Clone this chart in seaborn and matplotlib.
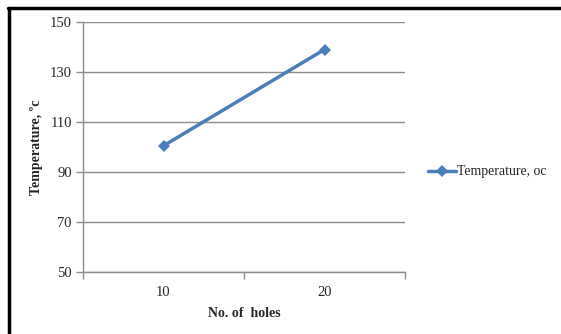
import matplotlib
matplotlib.use("Agg")
import matplotlib.pyplot as plt
from matplotlib.lines import Line2D
import seaborn as sns
import pandas as pd

holes = ["10", "20"]
temperature = [100.5, 139.0]
y_ticks = [50, 70, 90, 110, 130, 150]

series_name = "Temperature, oc"
line_color = "#4a7ebb"
grid_color = "#8c8c8c"

sns.set_theme(style="white")
plt.rcParams["font.family"] = ["Liberation Serif", "DejaVu Serif"]

df = pd.DataFrame({"holes": holes, "temp": temperature})

fig = plt.figure(figsize=(5.61, 3.34), dpi=100)
ax = fig.add_axes([83 / 561, 1 - 272 / 334, (405 - 83) / 561, (272 - 22) / 334])

sns.lineplot(data=df, x="holes", y="temp", ax=ax, color=line_color,
             linewidth=2.5, marker="D", markersize=6, markeredgewidth=0,
             label=series_name, sort=False)

ax.set_ylim(50, 150)
ax.set_yticks(y_ticks)
ax.set_xlim(-0.5, len(holes) - 0.5)

# category boundaries get tick marks, category centres get labels
ax.set_xticks([i - 0.5 for i in range(len(holes) + 1)])
ax.set_xticklabels([""] * (len(holes) + 1))
ax.set_xticks(range(len(holes)), minor=True)
ax.set_xticklabels(holes, minor=True)
ax.tick_params(axis="x", which="major", direction="out", length=5, width=1,
               color=grid_color, bottom=True)
ax.tick_params(axis="x", which="minor", length=0, pad=10, labelsize=10.5)
ax.tick_params(axis="y", direction="out", length=5, width=1, color=grid_color,
               left=True, labelsize=10.5, pad=3)

ax.grid(axis="y", color=grid_color, linewidth=1)
ax.set_axisbelow(True)
for side in ("top", "right"):
    ax.spines[side].set_visible(False)
for side in ("left", "bottom"):
    ax.spines[side].set_color(grid_color)
    ax.spines[side].set_linewidth(1)

ax.set_xlabel("No. of  holes", fontsize=10, fontweight="bold", labelpad=6)
ax.set_ylabel("Temperature, \u00bac", fontsize=10, fontweight="bold", labelpad=5)

ax.legend(loc="center left", bbox_to_anchor=(1.055, 0.4), frameon=False,
          fontsize=10, handlelength=2.0, handletextpad=0.1, borderaxespad=0)

# outer chart frame
fig.add_artist(Line2D([8 / 561, 1], [1 - 7.5 / 334, 1 - 7.5 / 334],
                      transform=fig.transFigure, color="black", linewidth=2.5))
fig.add_artist(Line2D([8.5 / 561, 8.5 / 561], [0, 1 - 7.5 / 334],
                      transform=fig.transFigure, color="black", linewidth=2.5))

fig.savefig("out.png", dpi=100, facecolor="white")
